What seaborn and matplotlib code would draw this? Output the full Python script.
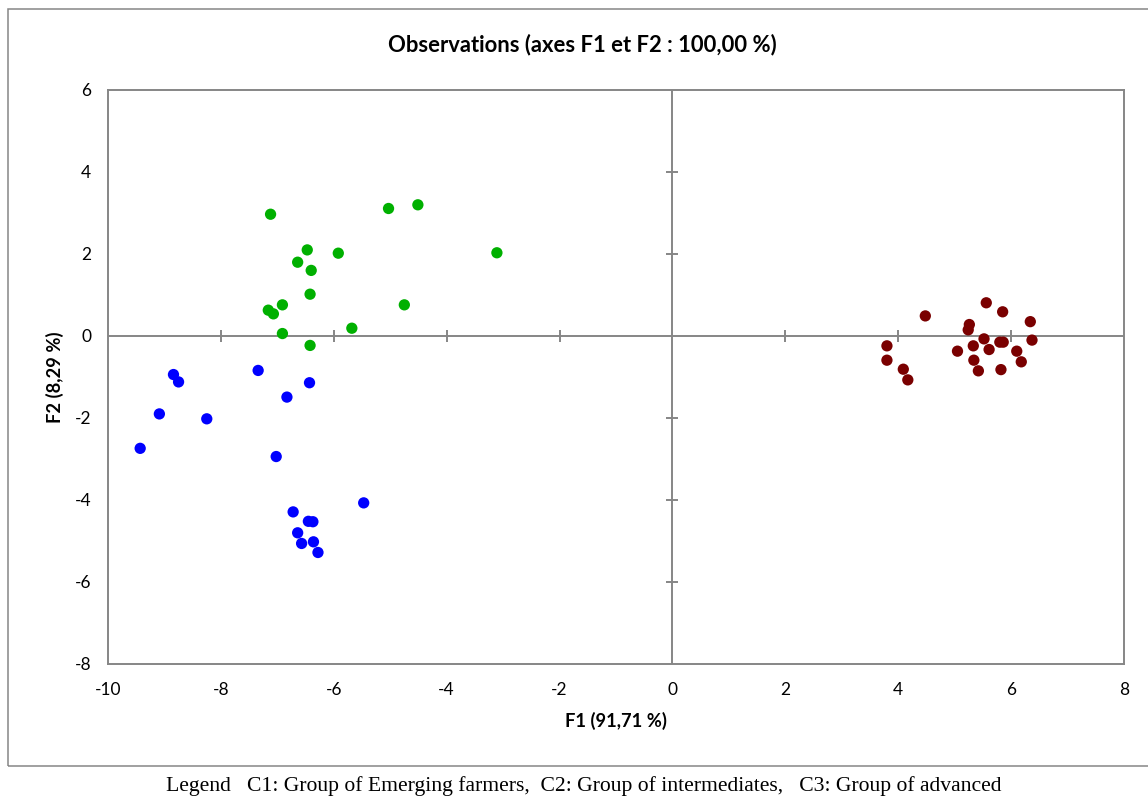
import matplotlib
matplotlib.use('Agg')
import matplotlib.pyplot as plt
import seaborn as sns
import pandas as pd
from matplotlib.patches import Rectangle

# C1: emerging farmers (blue)
c1_f1 = [-8.84, -8.75, -7.34, -6.43, -6.83, -9.09, -8.25, -9.43, -7.02, -5.47,
         -6.72, -6.45, -6.37, -6.64, -6.36, -6.57, -6.28]
c1_f2 = [-0.94, -1.12, -0.84, -1.14, -1.49, -1.90, -2.02, -2.74, -2.94, -4.07,
         -4.29, -4.52, -4.53, -4.80, -5.02, -5.06, -5.28]

# C2: intermediates (green)
c2_f1 = [-7.12, -5.03, -4.51, -6.47, -5.92, -3.11, -6.64, -6.40, -6.42, -6.91,
         -4.75, -7.16, -7.07, -5.68, -6.91, -6.42]
c2_f2 = [2.97, 3.11, 3.20, 2.10, 2.02, 2.03, 1.80, 1.60, 1.02, 0.76,
         0.76, 0.63, 0.54, 0.19, 0.06, -0.23]

# C3: advanced (dark red)
c3_f1 = [4.48, 5.56, 5.85, 6.34, 5.26, 5.24, 3.80, 3.80, 4.09, 4.17, 5.05,
         5.33, 5.52, 5.61, 5.80, 5.86, 5.34, 5.42, 5.82, 6.10, 6.18, 6.37]
c3_f2 = [0.49, 0.81, 0.59, 0.35, 0.28, 0.15, -0.24, -0.59, -0.81, -1.07, -0.37,
         -0.24, -0.07, -0.33, -0.15, -0.15, -0.59, -0.85, -0.82, -0.37, -0.63, -0.10]

df = pd.DataFrame({
    'F1': c1_f1 + c2_f1 + c3_f1,
    'F2': c1_f2 + c2_f2 + c3_f2,
    'group': ['C1'] * len(c1_f1) + ['C2'] * len(c2_f1) + ['C3'] * len(c3_f1),
})
palette = {'C1': '#0000FF', 'C2': '#00B000', 'C3': '#7A0000'}

sns.set_theme(style='white')
plt.rcParams['font.family'] = ['Lato', 'DejaVu Sans']
plt.rcParams['axes.unicode_minus'] = False
plt.rcParams['text.color'] = 'black'

W, H = 1148, 798
fig = plt.figure(figsize=(W / 100, H / 100), dpi=100)
ax = fig.add_axes([108 / W, 1 - 664 / H, (1124 - 108) / W, (664 - 90) / H])

grey = '#868686'

# outer chart frame
fig.patches.append(Rectangle((7.5 / W, 1 - 766 / H), 1.2, (766 - 8.5) / H,
                             transform=fig.transFigure, fill=False,
                             edgecolor=grey, linewidth=1.1))

ax.set_xlim(-10, 8)
ax.set_ylim(-8, 6)
ax.set_xticks(range(-10, 9, 2))
ax.set_yticks(range(-8, 7, 2))

# centre axes through the origin with crossing tick marks
ax.axhline(0, color=grey, lw=1.4, zorder=1)
ax.axvline(0, color=grey, lw=1.4, zorder=1)
xt = [t for t in ax.get_xticks() if t not in (-10, 0, 8)]
yt = [t for t in ax.get_yticks() if t not in (-8, 0, 6)]
ax.plot(xt, [0] * len(xt), ls='none', marker='|', ms=9, mew=1.4, color=grey, zorder=1)
ax.plot([0] * len(yt), yt, ls='none', marker='_', ms=9, mew=1.4, color=grey, zorder=1)

sns.scatterplot(data=df, x='F1', y='F2', hue='group', palette=palette, s=66,
                edgecolor='none', legend=False, ax=ax, zorder=3)

for sp in ax.spines.values():
    sp.set_color(grey)
    sp.set_linewidth(1.4)
ax.tick_params(axis='both', length=0, labelsize=12.5, colors='black')
ax.tick_params(axis='x', pad=13)
ax.tick_params(axis='y', pad=12)
ax.set_xlabel('')
ax.set_ylabel('')

fig.text(582 / W, 1 - 45 / H, 'Observations (axes F1 et F2 : 100,00 %)',
         ha='center', va='center', fontsize=15.8, fontweight='bold')
fig.text(616 / W, 1 - 721 / H, 'F1 (91,71 %)', ha='center', va='center',
         fontsize=13.2, fontweight='bold')
fig.text(55 / W, 1 - 377 / H, 'F2 (8,29 %)', ha='center', va='center',
         rotation=90, fontsize=13.2, fontweight='bold')
fig.text(584 / W, 1 - 786 / H,
         'Legend   C1: Group of Emerging farmers,  C2: Group of intermediates,   C3: Group of advanced',
         ha='center', va='center', fontsize=15.6, family='Liberation Serif')

fig.savefig('out.png', dpi=100)
